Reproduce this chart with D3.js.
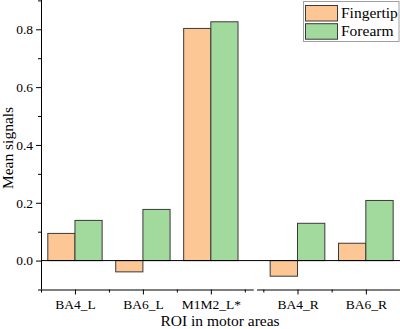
<!DOCTYPE html>
<html>
<head>
<meta charset="utf-8">
<script src="https://cdn.jsdelivr.net/npm/d3@7"></script>
<style>
  html, body { margin: 0; padding: 0; background: #fff; }
  svg { display: block; font-family: "Liberation Serif", "Times New Roman", serif; }
</style>
</head>
<body>
<svg id="chart" width="400" height="329"></svg>
<script>
// chart values
const categories = ["BA4_L", "BA6_L", "M1M2_L*", "BA4_R", "BA6_R"];
const fingertip = [0.094, -0.039, 0.803, -0.054, 0.060];
const forearm = [0.139, 0.177, 0.826, 0.129, 0.208];
const seriesNames = ["Fingertip", "Forearm"];
const yMajorTicks = [0.0, 0.2, 0.4, 0.6, 0.8];
const yMinorTicks = [-0.1, 0.1, 0.3, 0.5, 0.7, 0.9];

const width = 400, height = 329;
const colors = ["#fcc794", "#a2d99d"];
const barStroke = "#3a3a3a";
const barWidth = 0.4;
const serif = "Liberation Serif";

let svg = d3.select("#chart");

let y = d3.scaleLinear()
    .domain([-0.1, 0.9])
    .range([289.5, 0.4]);

// broken x axis: left hemisphere group and right hemisphere group
let xLeft = d3.scaleLinear()
    .domain([0.5, 3.625])
    .range([41, 253.3]);
let xRight = d3.scaleLinear()
    .domain([3.4, 5.5])
    .range([256.5, 400]);

function xFor(pos) {
    return pos < 3.7 ? xLeft : xRight;
}

// bars
let bars = svg.append("g");
categories.forEach(function(cat, i) {
    let pos = i + 1;
    let sx = xFor(pos);
    [fingertip[i], forearm[i]].forEach(function(v, s) {
        let x0 = s === 0 ? sx(pos - barWidth) : sx(pos);
        let x1 = s === 0 ? sx(pos) : sx(pos + barWidth);
        bars.append("rect")
            .attr("x", x0)
            .attr("y", Math.min(y(v), y(0)))
            .attr("width", x1 - x0)
            .attr("height", Math.abs(y(v) - y(0)))
            .attr("fill", colors[s])
            .attr("stroke", barStroke)
            .attr("stroke-width", 1);
    });
});

// zero line
svg.append("line")
    .attr("x1", xLeft(0.5))
    .attr("x2", width)
    .attr("y1", y(0))
    .attr("y2", y(0))
    .attr("stroke", "#000")
    .attr("stroke-width", 1);

// y axis
let yAxis = svg.append("g")
    .attr("transform", "translate(" + xLeft(0.5) + ",0)")
    .call(d3.axisLeft(y)
        .tickValues(yMajorTicks)
        .tickSize(5)
        .tickSizeOuter(0)
        .tickPadding(3)
        .tickFormat(d3.format(".1f")));
svg.append("g")
    .attr("transform", "translate(" + xLeft(0.5) + ",0)")
    .call(d3.axisLeft(y)
        .tickValues(yMinorTicks)
        .tickSize(3)
        .tickSizeOuter(0)
        .tickFormat(""))
    .select(".domain").remove();
yAxis.select(".domain").attr("d", "M0.5,0V" + y(-0.1));
yAxis.attr("font-family", serif).attr("font-size", 13.5);

// x axis, two pieces
let xAxisY = y(-0.1);
[[xLeft, [1, 2, 3], [0.5, 1.5, 2.5, 3.5]], [xRight, [4, 5], [3.5, 4.5, 5.5]]].forEach(function(p) {
    let scale = p[0];
    svg.append("g")
        .attr("transform", "translate(0," + xAxisY + ")")
        .call(d3.axisBottom(scale)
            .tickValues(p[1])
            .tickSize(5)
            .tickSizeOuter(0)
            .tickPadding(5)
            .tickFormat(function(d) { return categories[d - 1]; }))
        .attr("font-family", serif)
        .attr("font-size", 13.5);
    svg.append("g")
        .attr("transform", "translate(0," + xAxisY + ")")
        .call(d3.axisBottom(scale)
            .tickValues(p[2])
            .tickSize(3)
            .tickSizeOuter(0)
            .tickFormat(""))
        .select(".domain").remove();
});

svg.selectAll(".tick text").attr("fill", "#000");
svg.selectAll(".domain, .tick line").attr("stroke", "#000");

// axis titles
svg.append("text")
    .attr("x", 220)
    .attr("y", 326)
    .attr("text-anchor", "middle")
    .attr("font-family", serif)
    .attr("font-size", 15.5)
    .text("ROI in motor areas");
svg.append("text")
    .attr("transform", "translate(13," + 148 + ") rotate(-90)")
    .attr("text-anchor", "middle")
    .attr("font-family", serif)
    .attr("font-size", 15.5)
    .text("Mean signals");

// legend
let legend = svg.append("g");
legend.append("rect")
    .attr("x", 303.5)
    .attr("y", 1.5)
    .attr("width", 95.5)
    .attr("height", 40)
    .attr("fill", "#fff")
    .attr("stroke", "#a0a0a0")
    .attr("stroke-width", 1);
seriesNames.forEach(function(name, s) {
    legend.append("rect")
        .attr("x", 305.5)
        .attr("y", 5.5 + s * 18.2)
        .attr("width", 32)
        .attr("height", 15.5)
        .attr("fill", colors[s])
        .attr("stroke", barStroke)
        .attr("stroke-width", 1);
    legend.append("text")
        .attr("x", 341)
        .attr("y", 17.5 + s * 18.2)
        .attr("font-family", serif)
        .attr("font-size", 15.5)
        .text(name);
});
</script>
</body>
</html>
